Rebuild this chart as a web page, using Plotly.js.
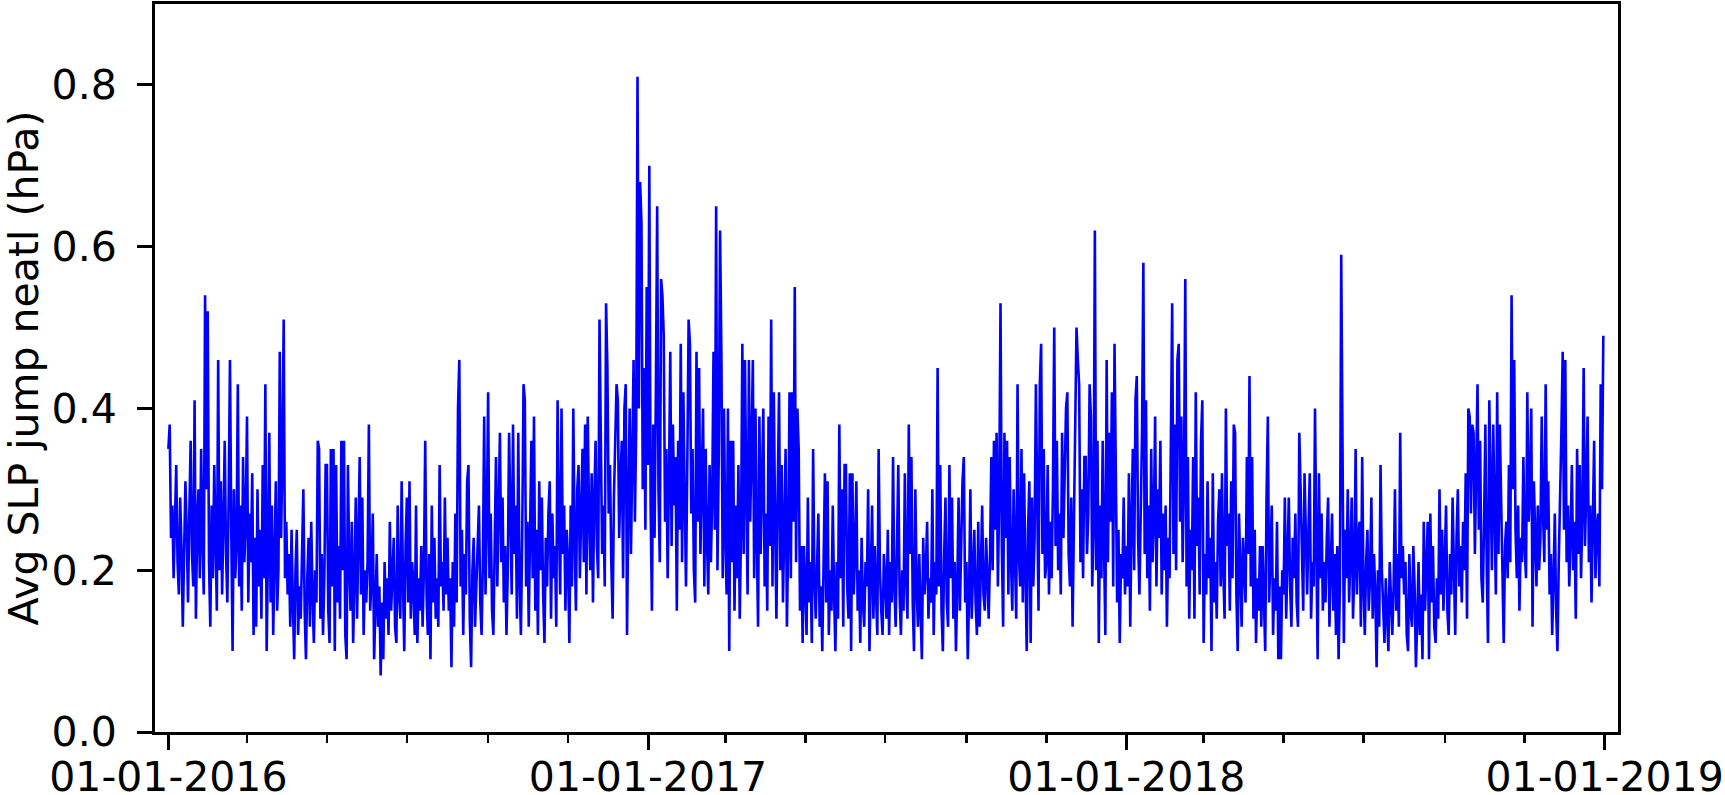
<!DOCTYPE html>
<html>
<head>
<meta charset="utf-8">
<script src="https://cdn.plot.ly/plotly-3.0.1.min.js"></script>
<style>
  html, body { margin: 0; padding: 0; background: #ffffff; }
  #chart { width: 1725px; height: 795px; }
</style>
</head>
<body>
<div id="chart"></div>
<script>
// ---- data (daily values, hPa) ----
const startDate = '2016-01-01';

const values2016 = [
  // Jan
  0.35,0.38,0.24,0.28,0.19,0.26,0.33,0.21,0.17,0.29, 0.23,0.13,0.20,0.31,0.25,0.16,0.27,0.36,0.22,0.18,
  0.41,0.14,0.26,0.30,0.19,0.35,0.24,0.17,0.54,0.30, 0.52,
  // Feb
  0.21,0.13,0.28,0.19,0.33,0.24,0.15,0.46,0.20,0.31, 0.17,0.26,0.36,0.22,0.16,0.29,0.46,0.25,0.10,0.30,
  0.19,0.23,0.43,0.18,0.28,0.15,0.34,0.21,0.26,
  // Mar
  0.39,0.16,0.27,0.21,0.32,0.12,0.24,0.13,0.30,0.18, 0.25,0.14,0.33,0.19,0.43,0.10,0.22,0.37,0.16,0.28,
  0.12,0.23,0.31,0.15,0.20,0.47,0.24,0.34,0.51,0.19, 0.26,
  // Apr
  0.17,0.22,0.13,0.25,0.16,0.09,0.20,0.25,0.12,0.18, 0.14,0.21,0.30,0.15,0.09,0.19,0.24,0.13,0.26,0.17,
  0.11,0.20,0.16,0.36,0.35,0.14,0.22,0.12,0.19,0.33,
  // May
  0.33,0.15,0.11,0.35,0.18,0.35,0.10,0.33,0.16,0.23, 0.14,0.36,0.20,0.36,0.12,0.09,0.33,0.21,0.15,0.26,
  0.11,0.19,0.29,0.14,0.22,0.34,0.17,0.29,0.12,0.20, 0.16,
  // Jun
  0.21,0.38,0.15,0.19,0.27,0.09,0.17,0.22,0.13,0.18, 0.07,0.16,0.09,0.21,0.14,0.19,0.12,0.26,0.15,0.20,
  0.24,0.13,0.11,0.28,0.17,0.14,0.31,0.19,0.10,0.23,
  // Jul
  0.29,0.16,0.31,0.14,0.21,0.18,0.12,0.28,0.11,0.19, 0.15,0.23,0.13,0.20,0.36,0.17,0.12,0.22,0.09,0.28,
  0.16,0.24,0.14,0.19,0.13,0.33,0.18,0.21,0.15,0.29, 0.17,
  // Aug
  0.24,0.15,0.19,0.08,0.21,0.13,0.27,0.16,0.40,0.46, 0.18,0.25,0.12,0.22,0.17,0.31,0.33,0.14,0.08,0.20,
  0.24,0.13,0.18,0.23,0.28,0.16,0.12,0.21,0.39,0.17, 0.26,
  // Sep
  0.42,0.19,0.27,0.15,0.12,0.24,0.34,0.18,0.26,0.37, 0.21,0.29,0.16,0.23,0.12,0.20,0.37,0.25,0.17,0.38,
  0.22,0.28,0.14,0.37,0.19,0.12,0.24,0.43,0.41,0.18,
  // Oct
  0.26,0.13,0.22,0.36,0.19,0.39,0.15,0.25,0.12,0.31, 0.20,0.29,0.17,0.11,0.24,0.18,0.27,0.31,0.14,0.27,
  0.19,0.23,0.13,0.41,0.26,0.17,0.40,0.22,0.28,0.15, 0.25,
  // Nov
  0.21,0.11,0.28,0.18,0.40,0.24,0.15,0.30,0.33,0.19, 0.26,0.35,0.21,0.38,0.17,0.39,0.27,0.20,0.32,0.16,
  0.29,0.36,0.23,0.19,0.51,0.32,0.22,0.28,0.18,0.53,
  // Dec
  0.45,0.27,0.33,0.21,0.14,0.29,0.36,0.43,0.41,0.24, 0.31,0.36,0.19,0.40,0.43,0.12,0.28,0.40,0.22,0.35,
  0.46,0.26,0.38,0.81,0.40,0.68,0.63,0.30,0.45,0.25, 0.55
];

const values2017 = [
  // Jan
  0.33,0.70,0.28,0.15,0.38,0.24,0.42,0.65,0.30,0.21, 0.56,0.54,0.49,0.26,0.35,0.19,0.31,0.47,0.23,0.38,
  0.28,0.34,0.15,0.36,0.25,0.48,0.21,0.42,0.29,0.18, 0.33,
  // Feb
  0.51,0.48,0.27,0.35,0.20,0.16,0.47,0.26,0.45,0.22, 0.31,0.40,0.18,0.35,0.24,0.17,0.33,0.21,0.29,0.47,
  0.25,0.65,0.20,0.34,0.62,0.47,0.19,0.40,
  // Mar
  0.24,0.17,0.40,0.10,0.36,0.21,0.36,0.15,0.28,0.19, 0.33,0.14,0.25,0.48,0.22,0.46,0.30,0.17,0.46,0.26,
  0.35,0.46,0.19,0.40,0.24,0.13,0.39,0.22,0.31,0.40, 0.18,
  // Apr
  0.27,0.15,0.39,0.23,0.51,0.18,0.42,0.26,0.14,0.30, 0.42,0.20,0.33,0.16,0.28,0.35,0.13,0.24,0.42,0.19,
  0.42,0.26,0.55,0.21,0.40,0.35,0.15,0.23,0.11,0.23,
  // May
  0.18,0.12,0.29,0.16,0.21,0.11,0.35,0.19,0.14,0.23, 0.27,0.13,0.18,0.10,0.22,0.32,0.16,0.31,0.12,0.20,
  0.15,0.28,0.17,0.10,0.21,0.14,0.38,0.19,0.30,0.13, 0.33,
  // Jun
  0.33,0.18,0.14,0.32,0.10,0.32,0.17,0.22,0.31,0.15, 0.20,0.11,0.24,0.16,0.13,0.21,0.18,0.30,0.10,0.19,
  0.28,0.14,0.23,0.17,0.12,0.35,0.20,0.15,0.12,0.22,
  // Jul
  0.19,0.14,0.25,0.12,0.21,0.16,0.34,0.18,0.13,0.23, 0.33,0.17,0.12,0.20,0.15,0.32,0.19,0.14,0.38,0.22,
  0.34,0.16,0.10,0.30,0.18,0.13,0.22,0.15,0.09,0.24, 0.17,
  // Aug
  0.20,0.26,0.14,0.19,0.16,0.30,0.12,0.21,0.17,0.45, 0.18,0.33,0.15,0.10,0.22,0.29,0.16,0.13,0.33,0.19,
  0.29,0.14,0.21,0.10,0.18,0.29,0.15,0.23,0.31,0.34, 0.16,
  // Sep
  0.21,0.09,0.17,0.30,0.14,0.19,0.25,0.16,0.12,0.26, 0.13,0.20,0.28,0.17,0.15,0.24,0.19,0.14,0.22,0.34,
  0.20,0.36,0.25,0.37,0.18,0.29,0.53,0.23,0.13,0.37,
  // Oct
  0.24,0.36,0.17,0.34,0.21,0.15,0.30,0.19,0.14,0.43, 0.22,0.18,0.35,0.16,0.32,0.20,0.10,0.25,0.31,0.11,
  0.29,0.18,0.24,0.43,0.27,0.15,0.43,0.48,0.22,0.35, 0.19,
  // Nov
  0.21,0.33,0.17,0.26,0.19,0.30,0.50,0.23,0.36,0.20, 0.27,0.17,0.37,0.24,0.31,0.40,0.42,0.22,0.18,0.29,
  0.13,0.26,0.35,0.50,0.46,0.43,0.21,0.30,0.19,0.34,
  // Dec
  0.34,0.22,0.27,0.43,0.39,0.18,0.25,0.62,0.20,0.36, 0.11,0.28,0.19,0.36,0.23,0.12,0.46,0.21,0.37,0.26,
  0.42,0.18,0.48,0.30,0.16,0.25,0.11,0.22,0.19,0.29, 0.17
];

const values2018 = [
  // Jan
  0.23,0.18,0.32,0.13,0.26,0.35,0.20,0.41,0.44,0.24, 0.17,0.30,0.37,0.58,0.22,0.41,0.19,0.28,0.15,0.35,
  0.21,0.26,0.39,0.18,0.30,0.24,0.36,0.17,0.27,0.20, 0.28,
  // Feb
  0.13,0.24,0.19,0.38,0.53,0.22,0.38,0.20,0.46,0.48, 0.26,0.39,0.21,0.31,0.56,0.18,0.34,0.14,0.25,0.20,
  0.34,0.14,0.42,0.23,0.29,0.17,0.36,0.41,
  // Mar
  0.11,0.22,0.17,0.31,0.19,0.24,0.10,0.32,0.16,0.21, 0.14,0.26,0.30,0.18,0.32,0.20,0.14,0.40,0.23,0.27,
  0.15,0.31,0.19,0.38,0.37,0.17,0.10,0.27,0.21,0.13, 0.24,
  // Apr
  0.20,0.16,0.34,0.22,0.44,0.18,0.34,0.14,0.25,0.11, 0.19,0.15,0.23,0.13,0.23,0.17,0.10,0.29,0.39,0.16,
  0.21,0.28,0.12,0.19,0.15,0.26,0.09,0.18,0.09,0.20,
  // May
  0.17,0.29,0.14,0.21,0.29,0.18,0.13,0.24,0.19,0.27, 0.16,0.13,0.37,0.30,0.20,0.15,0.32,0.22,0.17,0.25,
  0.32,0.14,0.21,0.18,0.40,0.23,0.09,0.32,0.19,0.27, 0.15,
  // Jun
  0.21,0.16,0.24,0.29,0.13,0.19,0.27,0.15,0.22,0.12, 0.23,0.09,0.18,0.59,0.40,0.11,0.25,0.19,0.30,0.16,
  0.22,0.29,0.14,0.20,0.35,0.17,0.24,0.26,0.13,0.34,
  // Jul
  0.18,0.12,0.21,0.25,0.15,0.19,0.29,0.14,0.22,0.17, 0.08,0.20,0.13,0.33,0.20,0.15,0.11,0.19,0.14,0.10,
  0.21,0.16,0.12,0.18,0.30,0.15,0.22,0.13,0.37,0.19, 0.23,
  // Aug
  0.17,0.21,0.12,0.10,0.22,0.15,0.13,0.23,0.18,0.08, 0.14,0.21,0.12,0.17,0.09,0.26,0.15,0.20,0.26,0.09,
  0.27,0.16,0.23,0.13,0.11,0.19,0.14,0.30,0.17,0.25, 0.15,
  // Sep
  0.21,0.28,0.15,0.12,0.22,0.17,0.29,0.19,0.12,0.24, 0.30,0.18,0.23,0.16,0.26,0.20,0.32,0.14,0.40,0.39,
  0.27,0.38,0.37,0.22,0.31,0.43,0.25,0.36,0.19,0.16,
  // Oct
  0.26,0.38,0.21,0.11,0.41,0.29,0.20,0.38,0.24,0.17, 0.42,0.22,0.38,0.27,0.18,0.11,0.23,0.26,0.19,0.33,
  0.21,0.54,0.30,0.46,0.25,0.19,0.28,0.15,0.24,0.21, 0.34,
  // Nov
  0.23,0.19,0.42,0.26,0.30,0.40,0.13,0.31,0.22,0.18, 0.28,0.20,0.24,0.39,0.27,0.21,0.43,0.25,0.31,0.17,
  0.22,0.12,0.19,0.27,0.15,0.10,0.21,0.32,0.37,0.47,
  // Dec
  0.25,0.46,0.21,0.28,0.18,0.24,0.33,0.20,0.26,0.14, 0.35,0.22,0.33,0.19,0.27,0.45,0.23,0.30,0.39,0.21,
  0.28,0.16,0.24,0.36,0.19,0.25,0.27,0.18,0.43,0.30, 0.49
];

const xTickVals = ['2016-01-01', '2017-01-01', '2018-01-01', '2019-01-01'];
const xTickLabels = ['01-01-2016', '01-01-2017', '01-01-2018', '01-01-2019'];
const yTickVals = [0.0, 0.2, 0.4, 0.6, 0.8];
const yTickLabels = ['0.0', '0.2', '0.4', '0.6', '0.8'];
const yAxisTitle = 'Avg SLP jump neatl (hPa)';

// ---- build daily dates ----
const allValues = values2016.concat(values2017, values2018);
const dates = [];
const d0 = new Date(startDate + 'T00:00:00Z');
for (let i = 0; i < allValues.length; i++) {
  const d = new Date(d0.getTime() + i * 86400000);
  dates.push(d.toISOString().slice(0, 10));
}

const trace = {
  type: 'scatter',
  mode: 'lines',
  x: dates,
  y: allValues,
  line: { color: '#0000ff', width: 2.6 },
  hoverinfo: 'skip'
};

const FONT = 'DejaVu Sans, Verdana, sans-serif';

const layout = {
  width: 1725,
  height: 795,
  margin: { l: 155, r: 107, t: 4, b: 63, pad: 0 },
  paper_bgcolor: '#ffffff',
  plot_bgcolor: '#ffffff',
  showlegend: false,
  font: { family: FONT, size: 41, color: '#000000' },
  xaxis: {
    type: 'date',
    range: ['2015-12-21 19:00', '2019-01-11 05:00'],
    tickmode: 'array',
    tickvals: xTickVals,
    ticktext: xTickLabels,
    ticks: 'outside',
    ticklen: 15,
    tickwidth: 3,
    tickcolor: '#000000',
    ticklabelstandoff: -8,
    tickfont: { family: FONT, size: 41, color: '#000000' },
    showline: true,
    linecolor: '#000000',
    linewidth: 3,
    mirror: true,
    showgrid: false,
    zeroline: false,
    minor: {
      ticks: 'outside',
      ticklen: 8,
      tickwidth: 2.5,
      tickcolor: '#000000',
      dtick: 'M2',
      tick0: '2016-01-01',
      showgrid: false
    }
  },
  yaxis: {
    range: [0, 0.9],
    tickmode: 'array',
    tickvals: yTickVals,
    ticktext: yTickLabels,
    ticks: 'outside',
    ticklen: 15,
    tickwidth: 3,
    tickcolor: '#000000',
    ticklabelstandoff: 12,
    tickfont: { family: FONT, size: 41, color: '#000000' },
    showline: true,
    linecolor: '#000000',
    linewidth: 3,
    mirror: true,
    showgrid: false,
    zeroline: false,
    title: {
      text: yAxisTitle,
      font: { family: FONT, size: 41, color: '#000000' },
      standoff: 14
    }
  }
};

Plotly.newPlot('chart', [trace], layout, { displayModeBar: false, staticPlot: true });
</script>
</body>
</html>
